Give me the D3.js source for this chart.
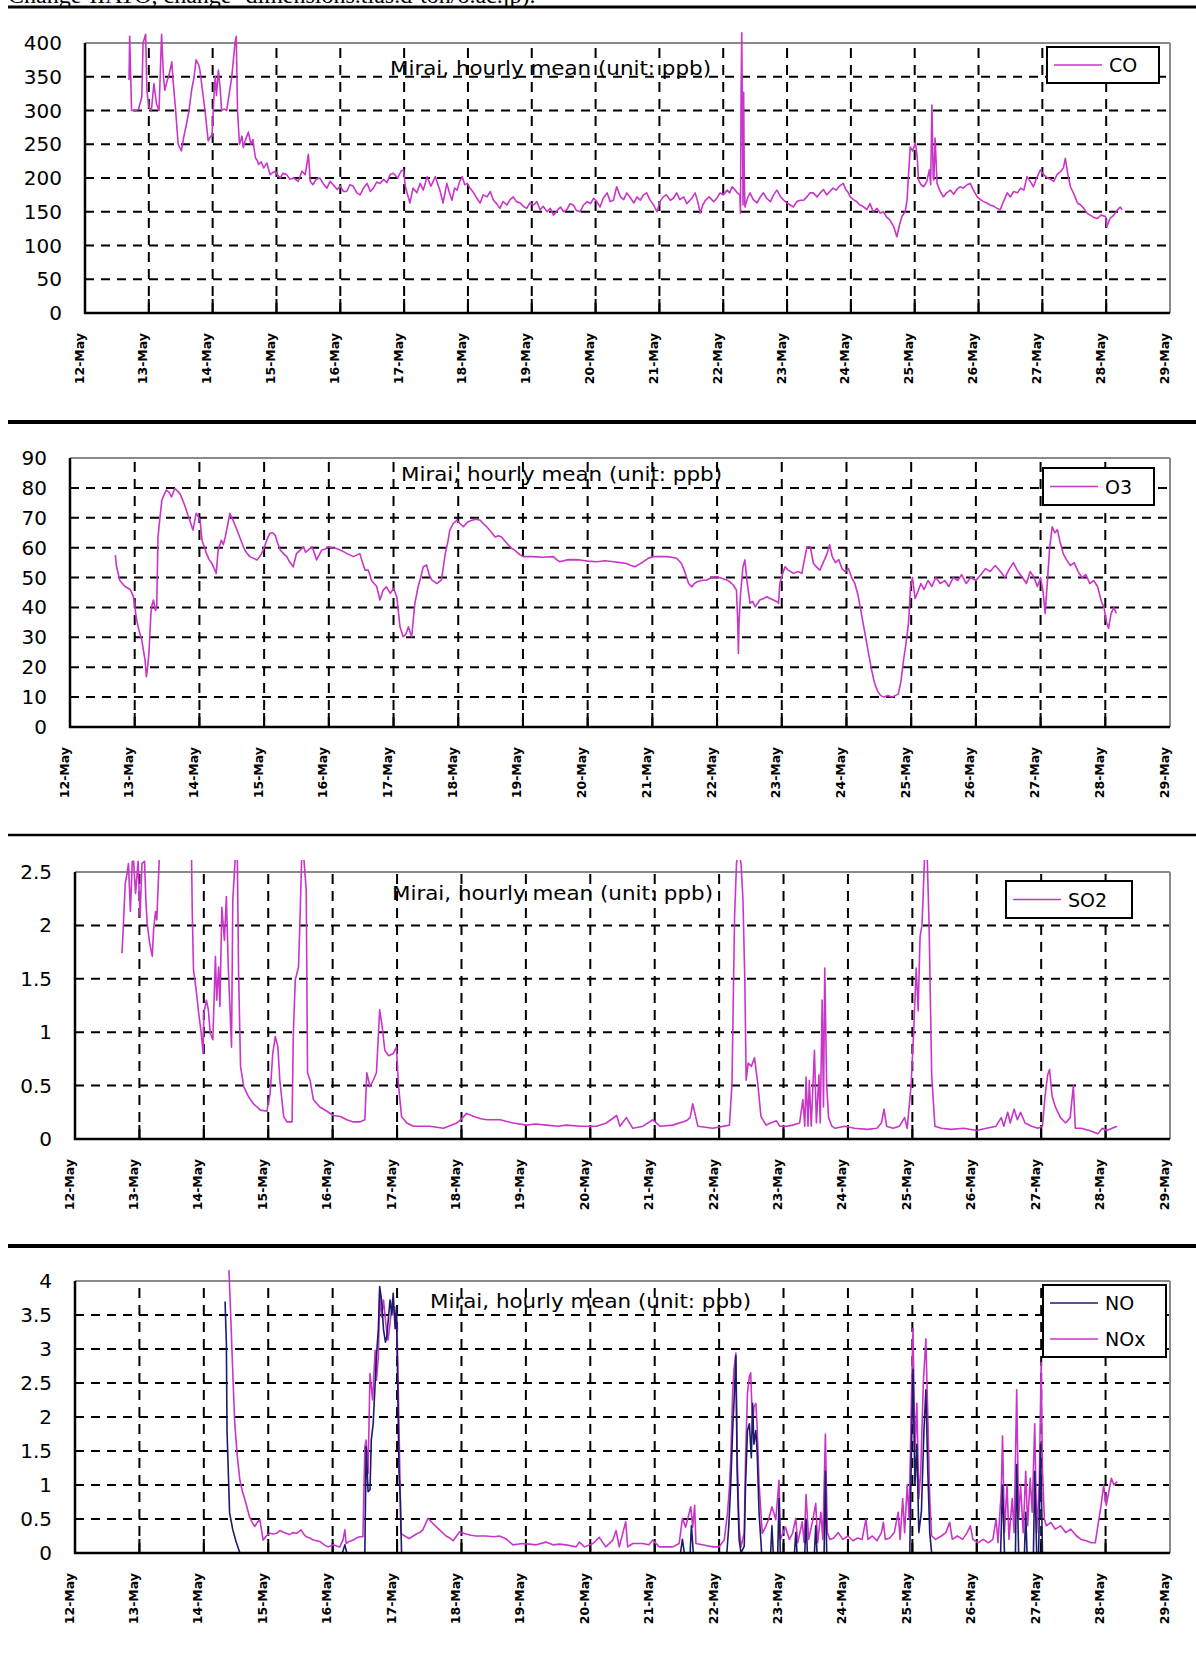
<!DOCTYPE html>
<html><head><meta charset="utf-8">
<script src="https://cdn.jsdelivr.net/npm/d3@7"></script>
<style>body{margin:0;background:#fff;} svg{display:block}</style>
</head><body>
<svg id="c" width="1196" height="1655"></svg>
<script>
// ---------------- DATA ----------------
const headerText = "Change-IIATO, change- dimensions.tias.d-ton/o.ac.jp).";
const chartTitle = "Mirai, hourly mean (unit: ppb)";
const dayLabels = ["12-May","13-May","14-May","15-May","16-May","17-May","18-May","19-May","20-May","21-May","22-May","23-May","24-May","25-May","26-May","27-May","28-May","29-May"];
const coTicks = [0,50,100,150,200,250,300,350,400];
const o3Ticks = [0,10,20,30,40,50,60,70,80,90];
const so2Ticks = [0,0.5,1,1.5,2,2.5];
const noxTicks = [0,0.5,1,1.5,2,2.5,3,3.5,4];
// [day offset from 12-May 00:00, value in ppb]
const coData = [[0.69,345],[0.70,410],[0.73,300],[0.80,300],[0.84,302],[0.89,320],[0.91,400],[0.95,413],[0.97,330],[1.00,305],[1.04,300],[1.08,340],[1.12,310],[1.16,300],[1.20,413],[1.23,350],[1.25,330],[1.29,345],[1.31,350],[1.36,372],[1.38,345],[1.42,300],[1.46,250],[1.51,240],[1.55,262],[1.59,280],[1.63,300],[1.67,330],[1.71,350],[1.74,375],[1.78,368],[1.80,360],[1.84,330],[1.88,300],[1.93,255],[1.97,262],[1.99,262],[2.02,320],[2.04,350],[2.06,322],[2.09,360],[2.12,330],[2.14,300],[2.18,302],[2.22,300],[2.26,325],[2.30,350],[2.35,400],[2.37,410],[2.39,300],[2.42,250],[2.46,262],[2.48,245],[2.52,258],[2.56,268],[2.60,250],[2.63,257],[2.67,230],[2.70,226],[2.72,220],[2.76,224],[2.80,215],[2.85,222],[2.90,205],[2.94,208],[2.98,210],[3.02,204],[3.06,200],[3.10,207],[3.16,205],[3.21,198],[3.27,200],[3.34,195],[3.40,210],[3.45,205],[3.50,235],[3.53,195],[3.57,190],[3.62,198],[3.68,200],[3.73,192],[3.79,185],[3.84,195],[3.89,190],[3.95,183],[4.00,188],[4.05,180],[4.10,180],[4.15,190],[4.20,188],[4.26,178],[4.31,175],[4.37,186],[4.42,192],[4.47,180],[4.52,185],[4.57,194],[4.62,192],[4.68,198],[4.73,193],[4.78,205],[4.83,207],[4.90,200],[4.95,210],[4.99,212],[5.02,187],[5.09,163],[5.14,185],[5.20,178],[5.25,192],[5.30,182],[5.36,202],[5.42,188],[5.49,202],[5.56,182],[5.61,163],[5.67,192],[5.71,178],[5.75,167],[5.79,185],[5.83,182],[5.87,195],[5.91,202],[5.95,190],[5.99,192],[6.04,184],[6.09,178],[6.14,170],[6.19,163],[6.24,175],[6.30,172],[6.35,180],[6.40,167],[6.45,162],[6.50,155],[6.55,165],[6.61,160],[6.66,168],[6.71,172],[6.76,165],[6.82,163],[6.87,158],[6.92,155],[6.97,163],[7.03,160],[7.08,165],[7.13,153],[7.18,158],[7.24,150],[7.29,155],[7.34,145],[7.40,152],[7.45,157],[7.50,150],[7.55,153],[7.60,162],[7.65,160],[7.70,152],[7.76,150],[7.81,160],[7.87,165],[7.92,162],[7.97,170],[8.02,165],[8.07,157],[8.12,170],[8.18,178],[8.23,165],[8.28,167],[8.33,187],[8.39,172],[8.44,168],[8.49,178],[8.55,170],[8.60,163],[8.65,172],[8.70,167],[8.75,175],[8.80,178],[8.85,168],[8.91,160],[8.96,150],[9.01,165],[9.06,172],[9.11,175],[9.17,167],[9.22,170],[9.27,178],[9.32,168],[9.38,172],[9.43,162],[9.48,167],[9.52,172],[9.56,178],[9.60,165],[9.64,148],[9.68,160],[9.72,167],[9.78,172],[9.85,165],[9.90,170],[9.95,178],[10.00,175],[10.06,182],[10.10,178],[10.14,187],[10.18,183],[10.22,178],[10.26,175],[10.27,148],[10.28,330],[10.29,415],[10.30,300],[10.31,160],[10.32,327],[10.33,200],[10.34,157],[10.38,170],[10.42,178],[10.47,168],[10.53,163],[10.58,172],[10.63,178],[10.68,170],[10.74,165],[10.79,175],[10.84,182],[10.90,172],[10.95,167],[11.00,163],[11.05,160],[11.10,157],[11.15,165],[11.21,167],[11.26,167],[11.31,172],[11.36,178],[11.41,178],[11.47,172],[11.52,178],[11.57,183],[11.62,175],[11.67,180],[11.72,185],[11.77,182],[11.82,188],[11.88,192],[11.92,183],[11.96,178],[11.99,172],[12.04,168],[12.09,165],[12.14,160],[12.19,158],[12.25,153],[12.30,162],[12.35,150],[12.41,155],[12.46,148],[12.51,150],[12.56,142],[12.61,138],[12.67,128],[12.72,113],[12.76,130],[12.80,143],[12.85,150],[12.88,167],[12.90,200],[12.93,246],[12.97,240],[13.01,253],[13.04,230],[13.06,197],[13.10,190],[13.14,187],[13.19,195],[13.23,212],[13.25,190],[13.27,308],[13.29,200],[13.30,197],[13.32,259],[13.35,192],[13.40,180],[13.45,172],[13.50,178],[13.56,182],[13.61,176],[13.66,183],[13.71,187],[13.76,185],[13.82,190],[13.87,192],[13.92,182],[13.98,172],[14.03,168],[14.08,165],[14.13,163],[14.18,160],[14.24,158],[14.29,155],[14.34,153],[14.39,165],[14.45,178],[14.50,172],[14.55,180],[14.61,178],[14.66,185],[14.71,182],[14.76,202],[14.81,195],[14.86,187],[14.91,200],[14.97,212],[15.02,205],[15.08,200],[15.13,198],[15.18,195],[15.23,205],[15.29,210],[15.33,215],[15.36,229],[15.40,205],[15.44,187],[15.50,175],[15.55,163],[15.60,160],[15.65,155],[15.70,148],[15.75,145],[15.80,142],[15.86,140],[15.92,145],[15.99,143],[16.01,128],[16.06,140],[16.12,145],[16.17,152],[16.22,157],[16.25,153]];
const o3Data = [[0.70,57.5],[0.72,53.6],[0.77,49],[0.81,48],[0.85,47],[0.89,46.5],[0.93,46],[0.98,43.6],[1.03,35.8],[1.07,32],[1.11,29],[1.16,22.4],[1.18,16.8],[1.20,20],[1.22,24.7],[1.25,38],[1.27,41],[1.29,42.5],[1.32,39],[1.34,40.2],[1.36,63.6],[1.39,70],[1.42,75.9],[1.46,78],[1.49,79.3],[1.53,78.5],[1.57,77],[1.62,79.8],[1.66,79],[1.70,78],[1.74,76],[1.78,73.7],[1.82,71],[1.85,69.2],[1.90,65.9],[1.95,71.5],[1.98,70.5],[2.01,69.2],[2.04,62.5],[2.08,60],[2.11,58],[2.15,56],[2.19,54.8],[2.23,53],[2.26,51.4],[2.29,59.2],[2.34,62.5],[2.37,61],[2.40,63.6],[2.44,68],[2.47,71.5],[2.52,69.2],[2.56,67],[2.60,64.8],[2.65,62],[2.70,59.2],[2.74,58],[2.78,57],[2.83,56.5],[2.89,55.9],[2.93,57],[2.96,58],[3.00,60],[3.04,62.5],[3.09,64.8],[3.13,65],[3.17,64.2],[3.21,61.5],[3.25,59.2],[3.30,58],[3.35,57],[3.40,55],[3.45,53.6],[3.50,58],[3.55,59],[3.61,60.3],[3.64,58.5],[3.68,59.2],[3.74,60.3],[3.78,58],[3.81,55.9],[3.85,57.5],[3.89,59.2],[3.94,59.5],[3.99,60.3],[4.05,60],[4.12,59.7],[4.20,59],[4.28,58],[4.33,57.5],[4.38,57],[4.43,57.5],[4.48,58],[4.52,55],[4.56,52.5],[4.61,52.5],[4.66,49],[4.70,48],[4.74,47],[4.79,42.5],[4.84,45.8],[4.89,46.9],[4.95,44.7],[5.00,46.4],[5.05,43.6],[5.10,33.5],[5.15,30.2],[5.19,31],[5.23,33.5],[5.28,30.2],[5.33,41.4],[5.38,46.9],[5.42,50],[5.46,53.6],[5.51,54.2],[5.55,51],[5.59,49.2],[5.67,48],[5.74,49.2],[5.80,58],[5.84,62],[5.87,65.9],[5.92,68],[5.98,69.2],[6.03,68],[6.08,67],[6.14,68.5],[6.21,69.2],[6.28,69.5],[6.34,69.2],[6.39,68],[6.44,67],[6.50,65.5],[6.57,63.6],[6.62,64],[6.67,63.6],[6.73,62],[6.80,60.3],[6.88,59],[6.96,57.5],[7.01,57],[7.15,57],[7.30,56.8],[7.47,57],[7.52,56],[7.57,55.3],[7.70,56],[7.88,55.9],[8.00,55.5],[8.14,55.3],[8.27,55.6],[8.40,55.3],[8.50,55],[8.60,54.7],[8.67,54],[8.73,53.6],[8.80,54.5],[8.86,55.3],[8.94,56.5],[9.02,57],[9.12,57],[9.22,57],[9.30,56.8],[9.38,56.4],[9.45,54.7],[9.51,51.4],[9.56,48],[9.61,46.9],[9.65,48],[9.69,48.6],[9.76,49],[9.84,49.2],[9.92,50],[9.99,50.3],[10.07,49.8],[10.15,49.2],[10.20,48.5],[10.25,47.5],[10.30,45.8],[10.32,35],[10.33,24.6],[10.34,35],[10.36,43.6],[10.40,53.6],[10.43,55.9],[10.46,49.2],[10.51,41.4],[10.55,42],[10.59,40.2],[10.63,41.5],[10.66,42.5],[10.72,43],[10.77,43.6],[10.82,43],[10.87,42.5],[10.92,42],[10.95,41.4],[10.97,48],[11.01,51],[11.05,53.6],[11.10,52.5],[11.18,51.4],[11.25,52],[11.31,51.4],[11.35,56],[11.39,60.3],[11.44,60.3],[11.49,54.7],[11.54,53.5],[11.59,52.5],[11.64,55],[11.70,58],[11.74,61],[11.78,57],[11.83,55],[11.88,56],[11.93,53],[11.98,52],[12.03,53],[12.08,50],[12.13,48],[12.18,44],[12.23,38],[12.28,32],[12.33,26],[12.38,20],[12.43,15],[12.48,12],[12.53,10.5],[12.58,10],[12.64,10.5],[12.70,10],[12.75,10.5],[12.80,11],[12.84,15],[12.88,22],[12.92,28],[12.96,35],[12.99,47],[13.02,50],[13.06,43],[13.10,45],[13.15,48],[13.20,46],[13.26,49],[13.32,47],[13.38,50],[13.45,48],[13.52,49],[13.58,47],[13.65,50],[13.72,49],[13.78,51],[13.85,48],[13.92,50],[14.00,49],[14.08,51],[14.15,53],[14.22,52],[14.30,54],[14.38,52],[14.45,50],[14.52,53],[14.58,55],[14.65,52],[14.72,50],[14.78,48],[14.84,52],[14.90,50],[14.95,47],[15.00,50],[15.04,45],[15.07,38],[15.10,47],[15.14,60],[15.18,67],[15.22,65],[15.26,66],[15.30,62],[15.35,58],[15.40,56],[15.46,54],[15.52,55],[15.58,52],[15.64,50],[15.70,51],[15.76,48],[15.82,49],[15.88,47],[15.94,42],[15.98,40],[16.02,35],[16.05,33],[16.09,38],[16.13,40],[16.17,38]];
const so2Data = [[0.73,1.74],[0.75,1.99],[0.78,2.39],[0.81,2.49],[0.83,2.58],[0.86,2.13],[0.89,2.6],[0.91,2.6],[0.94,2.3],[0.98,2.6],[1.01,2.08],[1.04,2.58],[1.08,2.6],[1.10,2.24],[1.12,2.02],[1.16,1.83],[1.20,1.71],[1.22,1.96],[1.25,2.13],[1.27,2.05],[1.31,2.65],[1.40,3.5],[1.60,3.5],[1.78,3.2],[1.81,2.6],[1.82,2.14],[1.84,1.58],[1.88,1.40],[1.92,1.18],[1.96,0.99],[1.99,0.80],[2.00,1.18],[2.04,1.30],[2.07,1.21],[2.10,0.99],[2.14,0.93],[2.18,1.71],[2.20,1.30],[2.23,1.61],[2.25,1.24],[2.28,2.17],[2.32,1.86],[2.35,2.27],[2.38,1.61],[2.43,0.86],[2.45,2.24],[2.49,2.65],[2.52,2.65],[2.54,1.55],[2.57,0.68],[2.62,0.49],[2.69,0.40],[2.77,0.33],[2.88,0.27],[2.98,0.26],[3.03,0.43],[3.07,0.80],[3.11,0.96],[3.15,0.86],[3.18,0.55],[3.24,0.21],[3.29,0.16],[3.37,0.16],[3.39,0.99],[3.42,1.49],[3.47,1.61],[3.49,1.99],[3.52,2.65],[3.55,2.65],[3.59,2.33],[3.61,0.62],[3.65,0.55],[3.70,0.37],[3.80,0.30],[3.91,0.26],[4.01,0.22],[4.12,0.21],[4.22,0.18],[4.32,0.16],[4.42,0.16],[4.50,0.18],[4.53,0.62],[4.58,0.49],[4.63,0.55],[4.68,0.62],[4.73,1.21],[4.77,1.05],[4.81,0.83],[4.87,0.78],[4.94,0.80],[4.99,0.86],[5.02,0.52],[5.07,0.21],[5.15,0.15],[5.25,0.12],[5.40,0.12],[5.51,0.12],[5.72,0.10],[5.93,0.15],[6.02,0.2],[6.08,0.24],[6.19,0.21],[6.30,0.19],[6.40,0.18],[6.60,0.18],[6.80,0.15],[7.01,0.13],[7.15,0.14],[7.32,0.13],[7.50,0.12],[7.63,0.13],[7.84,0.12],[8.10,0.12],[8.25,0.15],[8.41,0.22],[8.46,0.12],[8.56,0.20],[8.66,0.10],[8.82,0.12],[8.97,0.18],[9.08,0.12],[9.28,0.13],[9.49,0.17],[9.55,0.2],[9.59,0.33],[9.67,0.12],[9.90,0.10],[10.16,0.13],[10.20,0.52],[10.24,2.08],[10.27,2.58],[10.30,2.7],[10.34,2.58],[10.37,2.24],[10.40,1.46],[10.42,0.55],[10.45,0.71],[10.50,0.68],[10.55,0.76],[10.60,0.52],[10.65,0.21],[10.73,0.13],[10.80,0.15],[10.89,0.17],[10.94,0.12],[11.05,0.12],[11.14,0.13],[11.25,0.15],[11.30,0.37],[11.33,0.12],[11.35,0.58],[11.38,0.12],[11.40,0.55],[11.43,0.12],[11.48,0.83],[11.51,0.15],[11.55,0.6],[11.57,0.15],[11.60,1.3],[11.62,0.3],[11.64,1.6],[11.67,0.5],[11.70,0.2],[11.75,0.12],[11.80,0.1],[11.95,0.12],[12.10,0.1],[12.30,0.09],[12.45,0.1],[12.52,0.15],[12.56,0.28],[12.60,0.12],[12.70,0.1],[12.80,0.12],[12.88,0.2],[12.92,0.1],[12.98,0.5],[13.02,1.0],[13.06,1.6],[13.09,1.2],[13.12,1.9],[13.15,2.0],[13.19,2.65],[13.23,2.65],[13.26,2.0],[13.30,0.6],[13.35,0.12],[13.45,0.1],[13.60,0.09],[13.80,0.1],[14.00,0.08],[14.15,0.1],[14.30,0.12],[14.38,0.2],[14.42,0.12],[14.48,0.25],[14.52,0.15],[14.58,0.28],[14.63,0.18],[14.68,0.25],[14.75,0.15],[14.85,0.12],[14.95,0.1],[15.02,0.12],[15.06,0.4],[15.10,0.6],[15.13,0.65],[15.17,0.4],[15.22,0.3],[15.30,0.2],[15.38,0.15],[15.45,0.2],[15.50,0.5],[15.53,0.1],[15.62,0.1],[15.75,0.08],[15.88,0.05],[15.95,0.1],[16.02,0.08],[16.10,0.1],[16.18,0.12]];
const noData = [[2.33,3.70],[2.35,3.09],[2.36,1.81],[2.40,0.59],[2.45,0.34],[2.50,0.17],[2.56,0],[4.15,0],[4.19,0.12],[4.22,0],[4.50,0],[4.52,1.56],[4.55,0.9],[4.58,0.93],[4.60,1.66],[4.63,1.91],[4.66,2.5],[4.68,2.89],[4.71,3.3],[4.73,3.92],[4.76,3.72],[4.79,3.28],[4.82,3.1],[4.84,3.18],[4.87,3.5],[4.89,3.72],[4.92,3.5],[4.94,3.82],[4.97,3.3],[4.99,3.62],[5.01,2.5],[5.03,1.2],[5.05,0.8],[5.07,0],[9.40,0],[9.43,0.2],[9.46,0],[9.55,0],[9.57,0.4],[9.60,0],[10.12,0],[10.15,0.4],[10.18,1.0],[10.21,1.8],[10.24,2.4],[10.26,2.9],[10.28,1.2],[10.31,0.2],[10.34,0],[10.39,0.1],[10.41,1.0],[10.44,1.8],[10.47,1.9],[10.50,1.4],[10.52,2.2],[10.54,1.6],[10.57,1.8],[10.59,1.5],[10.62,0.6],[10.66,0],[10.80,0],[10.82,0.4],[10.84,0],[10.91,0],[10.93,0.8],[10.95,0],[11.17,0],[11.19,0.3],[11.21,0],[11.33,0],[11.35,0.5],[11.37,0],[11.48,0],[11.50,0.4],[11.52,0],[11.63,0],[11.65,1.2],[11.67,0],[12.96,0],[12.98,1.2],[13.01,2.7],[13.04,1.0],[13.07,1.6],[13.10,0.3],[13.14,0.6],[13.18,1.8],[13.21,2.4],[13.24,1.2],[13.27,0.3],[13.30,0],[14.37,0],[14.40,1.0],[14.43,0],[14.60,0],[14.62,1.3],[14.65,0],[14.74,0],[14.76,0.6],[14.78,0],[14.88,0],[14.90,1.2],[14.93,0],[14.96,0],[14.99,1.6],[15.02,0],[16.25,0]];
const noxData = [[2.39,4.16],[2.41,3.69],[2.45,2.64],[2.48,1.91],[2.52,1.42],[2.56,1.07],[2.60,0.9],[2.64,0.78],[2.71,0.53],[2.75,0.45],[2.79,0.39],[2.83,0.45],[2.87,0.49],[2.92,0.19],[2.97,0.25],[3.02,0.29],[3.08,0.28],[3.13,0.29],[3.18,0.33],[3.23,0.31],[3.28,0.29],[3.33,0.27],[3.38,0.3],[3.44,0.29],[3.51,0.34],[3.55,0.28],[3.59,0.24],[3.65,0.22],[3.70,0.19],[3.75,0.18],[3.80,0.17],[3.87,0.12],[3.93,0.09],[4.01,0.12],[4.07,0.10],[4.11,0.09],[4.16,0.19],[4.19,0.34],[4.21,0.14],[4.26,0.17],[4.32,0.19],[4.37,0.22],[4.42,0.24],[4.47,0.24],[4.50,1.56],[4.52,1.66],[4.55,1.17],[4.58,2.64],[4.62,2.25],[4.66,2.98],[4.68,2.54],[4.71,2.89],[4.73,3.82],[4.76,3.47],[4.79,3.72],[4.83,3.33],[4.86,3.13],[4.89,3.37],[4.93,3.73],[4.96,3.5],[4.99,3.53],[5.01,2.84],[5.04,1.37],[5.06,0.29],[5.12,0.25],[5.19,0.21],[5.25,0.25],[5.30,0.28],[5.35,0.3],[5.40,0.34],[5.48,0.51],[5.56,0.43],[5.66,0.34],[5.76,0.25],[5.82,0.22],[5.87,0.18],[5.97,0.31],[6.07,0.28],[6.15,0.26],[6.23,0.25],[6.38,0.25],[6.50,0.24],[6.59,0.25],[6.69,0.21],[6.80,0.12],[6.95,0.14],[7.05,0.13],[7.16,0.12],[7.31,0.16],[7.42,0.12],[7.52,0.13],[7.62,0.12],[7.78,0.09],[7.83,0.16],[7.91,0.09],[8.04,0.14],[8.14,0.23],[8.24,0.09],[8.35,0.19],[8.40,0.33],[8.45,0.09],[8.55,0.46],[8.58,0.09],[8.66,0.14],[8.81,0.14],[8.91,0.12],[8.97,0.19],[9.07,0.09],[9.28,0.09],[9.38,0.14],[9.43,0.51],[9.48,0.38],[9.56,0.68],[9.59,0.38],[9.62,0.7],[9.64,0.14],[9.74,0.12],[9.90,0.09],[10.00,0.09],[10.08,0.19],[10.13,0.59],[10.16,0.96],[10.18,1.37],[10.21,2.35],[10.23,2.69],[10.26,2.94],[10.28,1.47],[10.31,0.38],[10.34,0.09],[10.39,0.3],[10.41,1.37],[10.44,2.35],[10.47,2.6],[10.49,2.65],[10.52,1.86],[10.54,2.15],[10.57,2.2],[10.59,1.86],[10.62,1.02],[10.67,0.29],[10.72,0.38],[10.77,0.5],[10.82,0.68],[10.88,0.49],[10.93,1.07],[10.95,0.2],[11.03,0.38],[11.09,0.2],[11.14,0.29],[11.19,0.51],[11.22,0.15],[11.29,0.46],[11.32,0.15],[11.35,0.86],[11.39,0.2],[11.45,0.46],[11.50,0.73],[11.53,0.15],[11.58,0.6],[11.61,0.2],[11.65,1.75],[11.68,0.3],[11.72,0.2],[11.78,0.22],[11.85,0.3],[11.92,0.2],[12.00,0.25],[12.08,0.18],[12.15,0.22],[12.22,0.2],[12.28,0.5],[12.31,0.2],[12.38,0.25],[12.45,0.18],[12.52,0.3],[12.55,0.45],[12.58,0.2],[12.65,0.22],[12.72,0.3],[12.78,0.6],[12.81,0.2],[12.85,0.8],[12.88,0.3],[12.92,1.0],[12.95,0.5],[12.98,2.0],[13.01,3.3],[13.04,1.5],[13.07,2.2],[13.10,0.8],[13.13,1.2],[13.17,2.5],[13.21,3.15],[13.24,2.0],[13.27,0.8],[13.30,0.25],[13.36,0.2],[13.45,0.25],[13.52,0.3],[13.58,0.45],[13.62,0.2],[13.70,0.25],[13.78,0.2],[13.85,0.3],[13.90,0.4],[13.94,0.2],[14.02,0.15],[14.10,0.2],[14.18,0.15],[14.25,0.2],[14.30,0.5],[14.33,0.15],[14.38,0.9],[14.40,1.72],[14.43,0.3],[14.47,1.0],[14.50,0.2],[14.55,0.8],[14.58,0.3],[14.62,2.4],[14.65,0.5],[14.68,1.0],[14.72,0.3],[14.76,1.2],[14.79,0.4],[14.83,1.1],[14.86,0.6],[14.90,1.9],[14.93,0.3],[14.97,1.0],[15.00,2.8],[15.02,1.2],[15.05,0.5],[15.08,0.4],[15.15,0.45],[15.22,0.35],[15.30,0.4],[15.38,0.3],[15.46,0.35],[15.55,0.25],[15.62,0.2],[15.70,0.18],[15.78,0.15],[15.84,0.15],[15.88,0.4],[15.93,0.7],[15.97,1.0],[16.01,0.7],[16.05,0.9],[16.09,1.1],[16.13,1.0],[16.18,1.05]];

// ---------------- STYLE / LAYOUT ----------------
const MAG = "#c835c8", NAVY = "#1c1c6a";
const FONT = "DejaVu Sans";
const panels = [
  {series:[{name:"CO",data:coData,color:MAG}], ticks:coTicks, fmt:d=>String(d),
   top:43,bottom:313,left:85,right:1170, titleX:390,titleY:75,
   legend:{x:1047,y:47,w:112,h:36}},
  {series:[{name:"O3",data:o3Data,color:MAG}], ticks:o3Ticks, fmt:d=>String(d),
   top:458,bottom:727,left:70,right:1170, titleX:401,titleY:481,
   legend:{x:1043,y:468,w:111,h:37}},
  {series:[{name:"SO2",data:so2Data,color:MAG}], ticks:so2Ticks, fmt:d=>String(d),
   top:872,bottom:1139,left:75,right:1170, titleX:392,titleY:900,
   legend:{x:1006,y:881,w:126,h:37}},
  {series:[{name:"NO",data:noData,color:NAVY},{name:"NOx",data:noxData,color:MAG}], drawOrder:[1,0], ticks:noxTicks, fmt:d=>String(d),
   top:1281,bottom:1553,left:75,right:1170, titleX:430,titleY:1308,
   legend:{x:1043,y:1285,w:123,h:72}}
];
const separators = [{y:7,w:3},{y:422,w:4},{y:835,w:2.5},{y:1246,w:4}];

const svg = d3.select("#c");
svg.append("rect").attr("width",1196).attr("height",1655).attr("fill","#fff");

// header text (cut off at top, as in the source page)
svg.append("text").attr("x",8).attr("y",3).attr("font-family","Liberation Serif")
  .attr("font-size",24).attr("fill","#000").text(headerText);

separators.forEach(s=>{
  svg.append("line").attr("x1",8).attr("x2",1196).attr("y1",s.y).attr("y2",s.y)
    .attr("stroke","#000").attr("stroke-width",s.w);
});

panels.forEach((p,pi)=>{
  const g = svg.append("g");
  const yMax = p.ticks[p.ticks.length-1];
  const x = d3.scaleLinear().domain([0, dayLabels.length-1]).range([p.left,p.right]);
  const y = d3.scaleLinear().domain([0, yMax]).range([p.bottom,p.top]);

  g.append("rect").attr("x",p.left).attr("y",p.top).attr("width",p.right-p.left)
    .attr("height",p.bottom-p.top).attr("fill","#fff");

  g.selectAll(".hg").data(p.ticks.slice(1,-1)).join("line")
    .attr("x1",p.left).attr("x2",p.right).attr("y1",d=>y(d)).attr("y2",d=>y(d))
    .attr("stroke","#000").attr("stroke-width",2).attr("stroke-dasharray","9,7");
  const inner = d3.range(1, dayLabels.length-1);
  g.selectAll(".vg").data(inner).join("line")
    .attr("x1",d=>x(d)).attr("x2",d=>x(d)).attr("y1",p.bottom).attr("y2",p.top)
    .attr("stroke","#000").attr("stroke-width",2).attr("stroke-dasharray","10,7");
  g.selectAll(".tk").data(inner).join("line")
    .attr("x1",d=>x(d)).attr("x2",d=>x(d)).attr("y1",p.bottom).attr("y2",p.bottom-14)
    .attr("stroke","#000").attr("stroke-width",2);

  g.append("line").attr("x1",p.left).attr("x2",p.right).attr("y1",p.top).attr("y2",p.top)
    .attr("stroke","#8a8a8a").attr("stroke-width",2);
  g.append("line").attr("x1",p.right).attr("x2",p.right).attr("y1",p.top).attr("y2",p.bottom)
    .attr("stroke","#8a8a8a").attr("stroke-width",2);

  g.append("text").attr("x",p.titleX).attr("y",p.titleY).attr("font-family",FONT)
    .attr("font-size",20).attr("fill","#000").attr("textLength",321)
    .attr("lengthAdjust","spacingAndGlyphs").text(chartTitle);

  const cid = "clip"+pi;
  svg.append("clipPath").attr("id",cid).append("rect")
    .attr("x",p.left).attr("y",p.top-12).attr("width",p.right-p.left).attr("height",p.bottom-p.top+12);

  const line = d3.line().x(d=>x(d[0])).y(d=>y(d[1]));
  const order = p.drawOrder || p.series.map((s,i)=>i);
  order.forEach(i=>{
    const s = p.series[i];
    g.append("path").datum(s.data).attr("d",line).attr("fill","none")
      .attr("stroke",s.color).attr("stroke-width",1.6).attr("stroke-linejoin","round")
      .attr("clip-path",`url(#${cid})`);
  });

  g.append("line").attr("x1",p.left).attr("x2",p.left).attr("y1",p.top).attr("y2",p.bottom+1)
    .attr("stroke","#000").attr("stroke-width",2.5);
  g.append("line").attr("x1",p.left-1).attr("x2",p.right).attr("y1",p.bottom).attr("y2",p.bottom)
    .attr("stroke","#000").attr("stroke-width",2.5);

  g.selectAll(".yl").data(p.ticks).join("text")
    .attr("x",p.left-23).attr("y",d=>y(d)).attr("text-anchor","end")
    .attr("dominant-baseline","central").attr("font-family",FONT).attr("font-size",20)
    .attr("fill","#000").text(p.fmt);

  g.selectAll(".xl").data(dayLabels).join("text")
    .attr("transform",(d,i)=>`translate(${x(i)-6},${p.bottom+20}) rotate(-90)`)
    .attr("text-anchor","end").attr("dominant-baseline","central")
    .attr("font-family",FONT).attr("font-size",12.5).attr("font-weight","bold")
    .attr("fill","#000").text(d=>d);

  const L = p.legend;
  g.append("rect").attr("x",L.x).attr("y",L.y).attr("width",L.w).attr("height",L.h)
    .attr("fill","#fff").attr("stroke","#000").attr("stroke-width",2);
  const rowH = L.h / p.series.length;
  p.series.forEach((s,i)=>{
    const cy = L.y + rowH*(i+0.5);
    g.append("line").attr("x1",L.x+7).attr("x2",L.x+55).attr("y1",cy).attr("y2",cy)
      .attr("stroke",s.color).attr("stroke-width",1.6);
    g.append("text").attr("x",L.x+62).attr("y",cy).attr("dominant-baseline","central")
      .attr("font-family",FONT).attr("font-size",19).attr("fill","#000").text(s.name);
  });
});
</script>
</body></html>
